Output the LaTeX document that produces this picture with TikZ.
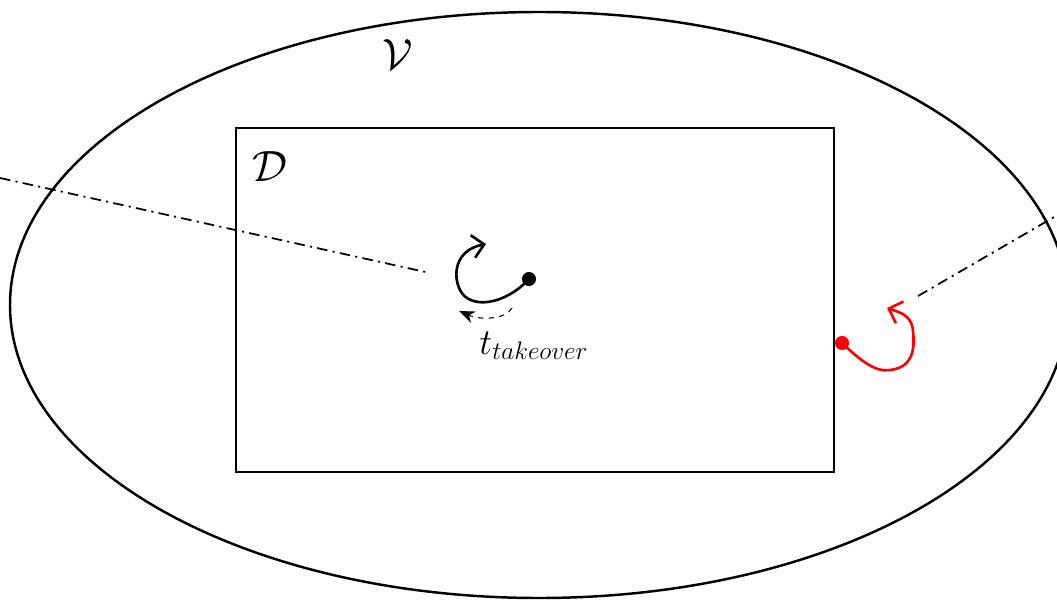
\documentclass[tikz,border=0pt]{standalone}
\usepackage{amsmath,amssymb}
\usepackage{tikz}
\usetikzlibrary{arrows.meta,positioning,calc}

\begin{document}
\begin{tikzpicture}[
  region/.style={draw=black, line width=1.4pt},
  axis/.style={draw=black, line width=1pt, dash pattern=on 6pt off 3pt on 1.2pt off 3pt},
  agent/.style={circle, fill=#1, inner sep=0pt, minimum size=8pt},
  path/.style={line width=1.5pt, -{Straight Barb[length=6.5pt,width=13pt]}},
  lbl/.style={font=\fontsize{24}{28}\selectfont}
]
  \useasboundingbox (0,0) rectangle (21.14,12);
  \begin{scope}
    \clip (0,0) rectangle (21.14,12);
    \draw[region] (10.78,5.9) ellipse [x radius=10.58, y radius=5.86];
    % sight lines
    \coordinate (lA) at (0,8.44);
    \coordinate (lB) at (8.6,6.54);
    \coordinate (rA) at (18.36,6.08);
    \coordinate (rB) at (21.6,7.96);
    \draw[axis] (lA) -- (lB);
    \draw[axis] (rA) -- (rB);
  \end{scope}
  \draw[region] (4.72,2.56) rectangle (16.68,9.44);

  \node[lbl] (V) at (7.96,10.9) {$\mathcal{V}$};
  \node[lbl] (D) at (5.4,8.66) {$\mathcal{D}$};

  % defender
  \node[agent=black] (def) at (10.58,6.42) {};
  \coordinate (defEnd) at (9.72,7.12);
  \draw[path] (def.center) .. controls (10.1,5.9) and (9.4,5.8) .. (9.2,6.2)
    .. controls (9.05,6.5) and (9.1,7.0) .. (defEnd);
  \coordinate (tA) at (10.24,5.84);
  \coordinate (tB) at (9.18,5.78);
  \draw[dashed, line width=0.6pt, -{Stealth[length=9pt,width=7pt]}]
    (tA) .. controls (10.1,5.6) and (9.6,5.6) .. (tB);
  \node[font=\fontsize{21}{25}\selectfont] (take) at (10.68,5.08) {$t_{takeover}$};

  % intruder
  \node[agent=red] (intr) at (16.84,5.14) {};
  \coordinate (intrEnd) at (17.74,5.84);
  \draw[path, red] (intr.center) .. controls (17.2,4.8) and (17.5,4.55) .. (17.8,4.6)
    .. controls (18.3,4.65) and (18.3,5.1) .. (18.25,5.45)
    .. controls (18.2,5.7) and (18.0,5.75) .. (intrEnd);
\end{tikzpicture}
\end{document}
